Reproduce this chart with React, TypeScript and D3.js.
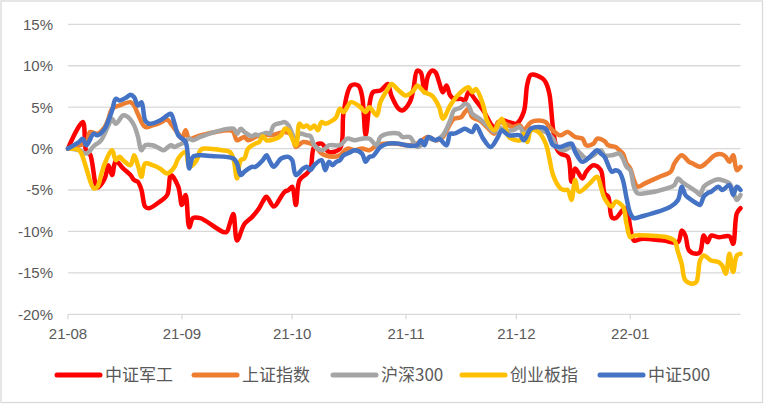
import React from "react";
import * as d3 from "d3";

type Pt = [string, number];

const seriesNames = ["中证军工", "上证指数", "沪深300", "创业板指", "中证500"];
const seriesColors = ["#FF0000", "#ED7D31", "#A5A5A5", "#FFC000", "#4472C4"];
const yTicks = [15, 10, 5, 0, -5, -10, -15, -20];
const xTickLabels = ["21-08", "21-09", "21-10", "21-11", "21-12", "22-01"];

const junGong: Pt[] = [
  ["08-01", 0], ["08-05", 3.2], ["08-06", -0.4], ["08-07", -0.7], ["08-09", -4.7], ["08-11", -3.6],
  ["08-12", -2.0], ["08-13", -3.2], ["08-14", -1.5], ["08-16", -2.4], ["08-18", -3.2], ["08-19", -3.8],
  ["08-20", -4.0], ["08-21", -5.0], ["08-22", -7.0], ["08-23", -7.2], ["08-26", -6.4], ["08-28", -5.6],
  ["08-29", -3.2], ["08-31", -4.6], ["09-01", -6.8], ["09-02", -5.6], ["09-03", -9.5], ["09-04", -8.4],
  ["09-06", -8.4], ["09-13", -10.1], ["09-14", -9.1], ["09-15", -7.9], ["09-16", -11.1], ["09-18", -9.1],
  ["09-20", -8.3], ["09-22", -7.2], ["09-23", -6.4], ["09-24", -5.8], ["09-26", -7.0], ["09-28", -5.8],
  ["09-29", -5.2], ["09-30", -5.0], ["10-01", -4.6], ["10-02", -6.8], ["10-03", -3.8], ["10-05", -3.0],
  ["10-06", -2.4], ["10-07", 0.2], ["10-09", 0.6], ["10-11", -0.4], ["10-14", 0], ["10-15", 4.4],
  ["10-17", 7.6], ["10-19", 7.6], ["10-20", 6.4], ["10-21", 1.6], ["10-22", 5.2], ["10-23", 6.8],
  ["10-25", 7.0], ["10-26", 7.4], ["10-27", 7.8], ["10-28", 6.4], ["10-30", 4.8], ["10-31", 4.6],
  ["11-02", 5.6], ["11-03", 7.2], ["11-04", 9.4], ["11-05", 9.2], ["11-06", 6.8], ["11-07", 8.8],
  ["11-08", 9.4], ["11-09", 9.2], ["11-10", 8.0], ["11-11", 6.8], ["11-12", 7.6], ["11-13", 6.4],
  ["11-14", 6.0], ["11-16", 6.0], ["11-17", 5.8], ["11-18", 6.8], ["11-20", 5.8], ["11-22", 4.6],
  ["11-25", 2.6], ["11-27", 3.4], ["11-29", 3.2], ["12-01", 3.0], ["12-03", 4.4], ["12-04", 7.8],
  ["12-05", 8.9], ["12-08", 8.5], ["12-09", 8.0], ["12-10", 6.6], ["12-11", 2.4], ["12-12", 0],
  ["12-13", -0.6], ["12-15", -1.0], ["12-16", -4.0], ["12-17", -2.4], ["12-19", -3.6], ["12-20", -2.8],
  ["12-22", -2.0], ["12-24", -2.6], ["12-25", -5.4], ["12-26", -5.8], ["12-27", -8.3], ["12-28", -8.4],
  ["12-30", -7.4], ["12-31", -7.2], ["01-01", -9.5], ["01-02", -11.1], ["01-04", -10.9], ["01-10", -11.1],
  ["01-14", -11.3], ["01-15", -9.9], ["01-16", -10.5], ["01-17", -12.3], ["01-19", -12.7], ["01-20", -12.5],
  ["01-21", -10.5], ["01-22", -11.3], ["01-23", -10.5], ["01-25", -10.7], ["01-28", -10.6], ["01-29", -11.5],
  ["01-30", -7.8], ["01-31", -7.2],
];

const shangZheng: Pt[] = [
  ["08-01", 0], ["08-06", 0.8], ["08-07", 2.0], ["08-09", 1.8], ["08-11", 2.6], ["08-12", 3.6],
  ["08-13", 4.8], ["08-15", 5.2], ["08-18", 5.6], ["08-19", 5.2], ["08-20", 4.2], ["08-22", 2.6],
  ["08-24", 2.8], ["08-26", 3.1], ["08-28", 3.5], ["08-29", 3.0], ["08-31", 1.8], ["09-01", 1.2],
  ["09-02", 2.2], ["09-03", 1.2], ["09-06", 1.6], ["09-14", 2.2], ["09-15", 2.0], ["09-16", 1.0],
  ["09-18", 1.4], ["09-19", 1.0], ["09-21", 1.4], ["09-23", 1.7], ["09-25", 1.6], ["09-27", 1.8],
  ["09-29", 2.0], ["10-01", 1.6], ["10-02", 0.2], ["10-04", 0.8], ["10-06", 0.6], ["10-07", 0.4],
  ["10-09", -0.6], ["10-10", -0.8], ["10-12", -1.0], ["10-14", -0.8], ["10-16", 0], ["10-18", -0.2],
  ["10-20", 0], ["10-22", -0.2], ["10-24", 0.4], ["10-26", 0.6], ["10-29", 0.6], ["11-02", 0.4],
  ["11-04", 0.6], ["11-07", 1.4], ["11-09", 1.0], ["11-11", 1.4], ["11-13", 3.0], ["11-14", 3.6],
  ["11-16", 3.8], ["11-17", 4.4], ["11-18", 4.8], ["11-19", 3.8], ["11-21", 3.4], ["11-23", 2.6],
  ["11-25", 1.8], ["11-26", 3.2], ["11-28", 3.0], ["11-30", 2.6], ["12-02", 2.8], ["12-03", 2.2],
  ["12-05", 3.2], ["12-07", 3.4], ["12-09", 3.2], ["12-10", 2.6], ["12-12", 1.8], ["12-13", 1.6],
  ["12-15", 2.0], ["12-17", 1.4], ["12-19", 1.2], ["12-20", 0.4], ["12-22", 0.6], ["12-23", 1.2],
  ["12-25", 0.9], ["12-26", 0.4], ["12-28", 0.2], ["12-29", -0.2], ["12-30", -0.6], ["12-31", -1.8],
  ["01-01", -2.4], ["01-02", -3.8], ["01-03", -4.6], ["01-05", -4.2], ["01-09", -3.4], ["01-12", -2.8],
  ["01-13", -1.8], ["01-15", -0.8], ["01-17", -1.6], ["01-18", -1.8], ["01-20", -2.2], ["01-22", -1.6],
  ["01-24", -0.8], ["01-26", -0.7], ["01-27", -1.0], ["01-28", -1.6], ["01-29", -0.8], ["01-30", -2.6],
  ["01-31", -2.2],
];

const huShen300: Pt[] = [
  ["08-01", 0], ["08-04", -0.2], ["08-06", -0.6], ["08-08", 0.3], ["08-10", 1.0], ["08-12", 2.8],
  ["08-13", 3.6], ["08-14", 3.0], ["08-16", 4.0], ["08-17", 3.9], ["08-18", 3.5], ["08-19", 2.8],
  ["08-20", 1.5], ["08-21", -0.2], ["08-22", 0.4], ["08-24", 0.4], ["08-26", 0], ["08-27", -0.2],
  ["08-29", 0.4], ["08-30", 0.2], ["08-31", 0.4], ["09-01", 0.6], ["09-03", 1.2], ["09-04", 1.0],
  ["09-06", 1.4], ["09-15", 2.4], ["09-16", 1.8], ["09-17", 2.4], ["09-18", 2.0], ["09-20", 1.5],
  ["09-21", 1.7], ["09-22", 1.6], ["09-24", 1.9], ["09-25", 1.8], ["09-26", 2.8], ["09-28", 3.1],
  ["09-29", 3.2], ["09-30", 2.8], ["10-02", 1.0], ["10-03", 1.8], ["10-05", 1.6], ["10-06", 1.5],
  ["10-07", 0.4], ["10-09", -0.2], ["10-10", 0], ["10-11", 0.4], ["10-14", 0.4], ["10-16", 1.2],
  ["10-18", 1.0], ["10-20", 1.2], ["10-22", 1.2], ["10-24", 0.4], ["10-25", 1.4], ["10-27", 1.8],
  ["10-30", 1.8], ["10-31", 1.4], ["11-02", 1.4], ["11-04", 0.2], ["11-05", 0.4], ["11-07", 1.2],
  ["11-09", 1.0], ["11-11", 1.6], ["11-13", 3.4], ["11-14", 4.6], ["11-15", 4.8], ["11-16", 5.0],
  ["11-17", 5.4], ["11-18", 5.2], ["11-19", 4.2], ["11-21", 3.6], ["11-23", 2.8], ["11-25", 2.0],
  ["11-26", 2.6], ["11-28", 2.2], ["11-30", 2.2], ["12-02", 2.6], ["12-03", 1.8], ["12-05", 2.4],
  ["12-07", 2.2], ["12-09", 2.0], ["12-11", 1.2], ["12-12", 0.2], ["12-14", -0.2], ["12-16", 0.2],
  ["12-18", -0.4], ["12-20", -1.2], ["12-22", -0.8], ["12-24", -0.2], ["12-25", -0.8], ["12-27", -0.8],
  ["12-29", -0.6], ["12-30", -1.2], ["12-31", -2.2], ["01-01", -2.6], ["01-02", -4.6], ["01-03", -5.4],
  ["01-05", -5.4], ["01-11", -4.8], ["01-13", -4.4], ["01-14", -3.6], ["01-15", -4.0], ["01-17", -4.6],
  ["01-19", -5.2], ["01-20", -5.6], ["01-21", -4.6], ["01-23", -4.0], ["01-25", -3.7], ["01-26", -3.8],
  ["01-28", -4.2], ["01-29", -5.2], ["01-30", -6.2], ["01-31", -5.6],
];

const chuangYe: Pt[] = [
  ["08-01", 0], ["08-04", -0.2], ["08-05", -1.0], ["08-06", -2.4], ["08-08", -4.8], ["08-09", -4.6],
  ["08-10", -3.2], ["08-11", -1.8], ["08-13", -0.2], ["08-14", -1.4], ["08-15", -1.0], ["08-16", -1.4],
  ["08-18", -2.0], ["08-19", -0.8], ["08-20", -2.0], ["08-21", -3.4], ["08-22", -1.8], ["08-24", -2.0],
  ["08-26", -2.4], ["08-28", -3.0], ["08-30", -2.2], ["08-31", -1.2], ["09-02", -0.4], ["09-03", -2.2],
  ["09-05", -1.4], ["09-06", -0.2], ["09-07", 0], ["09-12", -0.2], ["09-14", -0.4], ["09-15", -1.2],
  ["09-16", -3.6], ["09-17", -1.4], ["09-18", -1.2], ["09-19", 0], ["09-21", 0.6], ["09-22", 0.8],
  ["09-23", 1.5], ["09-24", 1.0], ["09-26", 1.1], ["09-28", 1.6], ["09-29", 2.4], ["09-30", 2.2],
  ["10-02", 0.4], ["10-03", 3.0], ["10-04", 2.6], ["10-05", 2.8], ["10-06", 2.4], ["10-07", 2.8],
  ["10-08", 2.2], ["10-09", 3.2], ["10-10", 3.0], ["10-12", 3.4], ["10-13", 3.8], ["10-14", 4.8],
  ["10-15", 4.4], ["10-17", 5.6], ["10-19", 5.2], ["10-20", 4.8], ["10-21", 4.4], ["10-22", 5.0],
  ["10-24", 4.0], ["10-25", 5.6], ["10-27", 7.2], ["10-28", 7.8], ["10-30", 7.0], ["11-01", 6.4],
  ["11-03", 7.0], ["11-04", 7.6], ["11-06", 6.8], ["11-08", 6.4], ["11-10", 5.0], ["11-11", 3.6],
  ["11-13", 5.2], ["11-15", 6.4], ["11-17", 7.2], ["11-18", 7.4], ["11-19", 6.8], ["11-20", 7.2],
  ["11-22", 5.2], ["11-23", 3.4], ["11-25", 2.2], ["11-27", 3.6], ["11-28", 2.6], ["11-29", 1.4],
  ["12-02", 1.0], ["12-03", 1.8], ["12-04", 0.8], ["12-05", 2.2], ["12-07", 2.0], ["12-09", 0.6],
  ["12-10", -1.2], ["12-11", -3.2], ["12-13", -4.8], ["12-14", -5.0], ["12-15", -5.0], ["12-16", -6.2],
  ["12-17", -3.8], ["12-18", -5.2], ["12-21", -4.2], ["12-23", -3.4], ["12-24", -4.6], ["12-25", -6.0],
  ["12-27", -7.0], ["12-28", -6.4], ["12-30", -7.0], ["12-31", -9.1], ["01-01", -10.7], ["01-02", -10.5],
  ["01-06", -10.5], ["01-11", -10.7], ["01-13", -11.1], ["01-14", -12.5], ["01-15", -13.9], ["01-16", -15.9],
  ["01-18", -16.3], ["01-19", -16.1], ["01-20", -13.5], ["01-21", -12.9], ["01-23", -13.5], ["01-25", -13.7],
  ["01-26", -14.1], ["01-27", -15.1], ["01-28", -12.7], ["01-29", -14.9], ["01-30", -12.9], ["01-31", -12.7],
];

const zhongZheng500: Pt[] = [
  ["08-01", 0], ["08-04", 0.8], ["08-05", 1.2], ["08-06", 0.4], ["08-08", 1.8], ["08-09", 1.6],
  ["08-11", 2.4], ["08-12", 3.4], ["08-13", 4.6], ["08-14", 6.0], ["08-15", 5.8], ["08-17", 6.2],
  ["08-18", 6.5], ["08-19", 6.2], ["08-20", 5.2], ["08-21", 5.6], ["08-22", 3.4], ["08-23", 3.0],
  ["08-26", 3.4], ["08-28", 4.0], ["08-29", 4.2], ["08-30", 3.0], ["08-31", 1.6], ["09-02", 0.8],
  ["09-03", -2.4], ["09-04", -1.0], ["09-06", -0.8], ["09-09", -0.9], ["09-15", -1.2], ["09-16", -1.8],
  ["09-17", -3.2], ["09-18", -2.8], ["09-20", -2.2], ["09-21", -2.2], ["09-23", -1.4], ["09-24", -0.8],
  ["09-25", -1.6], ["09-26", -2.2], ["09-28", -1.2], ["09-30", -1.0], ["10-01", -1.4], ["10-02", -3.2],
  ["10-04", -2.4], ["10-05", -2.2], ["10-06", -2.6], ["10-07", -2.0], ["10-09", -1.4], ["10-10", -2.6],
  ["10-11", -1.6], ["10-12", -2.0], ["10-13", -1.6], ["10-14", -1.4], ["10-15", -0.8], ["10-17", -0.4],
  ["10-18", -0.2], ["10-20", -0.6], ["10-21", -1.6], ["10-22", -1.0], ["10-23", -0.9], ["10-25", 0.2],
  ["10-27", 0.6], ["10-30", 0.6], ["11-01", 0.4], ["11-04", 0.4], ["11-05", 1.0], ["11-06", 0.4],
  ["11-07", 1.4], ["11-09", 1.0], ["11-10", 1.2], ["11-12", 0.4], ["11-13", 1.8], ["11-14", 1.8],
  ["11-16", 2.2], ["11-17", 2.4], ["11-19", 2.0], ["11-20", 2.8], ["11-22", 1.2], ["11-24", 0.2],
  ["11-26", 1.4], ["11-27", 2.2], ["11-29", 1.6], ["12-02", 1.6], ["12-03", 1.0], ["12-05", 2.4],
  ["12-07", 2.6], ["12-09", 2.4], ["12-10", 1.4], ["12-11", 0.4], ["12-13", 0.2], ["12-16", 0.6],
  ["12-17", -0.4], ["12-19", -1.6], ["12-21", -1.0], ["12-23", -0.2], ["12-24", -0.6], ["12-25", -1.0],
  ["12-27", -2.8], ["12-28", -2.6], ["12-29", -2.8], ["12-30", -3.8], ["12-31", -6.0], ["01-01", -7.8],
  ["01-02", -8.4], ["01-04", -8.2], ["01-12", -7.0], ["01-14", -6.2], ["01-15", -4.6], ["01-16", -5.6],
  ["01-17", -6.0], ["01-19", -6.6], ["01-20", -6.8], ["01-21", -5.8], ["01-22", -5.4], ["01-23", -5.2],
  ["01-25", -4.6], ["01-26", -5.0], ["01-28", -4.4], ["01-29", -5.6], ["01-30", -4.6], ["01-31", -5.0],
];

const allSeries = [junGong, shangZheng, huShen300, chuangYe, zhongZheng500];

function parseDay(s: string): Date {
  const [m, d] = s.split("-").map(Number);
  const year = m >= 8 ? 2021 : 2022;
  return new Date(year, m - 1, d);
}

const W = 764;
const H = 404;
const left = 68;
const right = 740.5;
const top = 24.3;
const bottom = 314.3;

export default function App() {
  const x = d3
    .scaleTime()
    .domain([new Date(2021, 7, 1), new Date(2022, 0, 31)])
    .range([left, right]);
  const y = d3.scaleLinear().domain([-20, 15]).range([bottom, top]);
  const line = d3
    .line<Pt>()
    .x((p) => x(parseDay(p[0])))
    .y((p) => y(p[1]))
    .curve(d3.curveCatmullRom.alpha(0.5));

  const monthTicks = d3.timeMonth.range(new Date(2021, 7, 1), new Date(2022, 0, 2));

  const legendX = [57, 194, 333, 462, 600];
  const legendY = 375;
  const textColor = "#595959";
  const grid = "#D9D9D9";

  return (
    <svg
      width={W}
      height={H}
      style={{ position: "absolute", left: 0, top: 0, background: "#fff" }}
      fontFamily="'Liberation Sans', Arial, sans-serif"
    >
      <rect x={1} y={1} width={W - 2.5} height={H - 2.5} fill="#fff" stroke={grid} strokeWidth={1.3} />
      {yTicks.map((t) => (
        <g key={t}>
          <line x1={left} x2={right} y1={y(t)} y2={y(t)} stroke={grid} strokeWidth={1.3} />
          <text
            x={53}
            y={y(t)}
            dy="0.36em"
            textAnchor="end"
            fontSize={15}
            fill={textColor}
          >
            {t + "%"}
          </text>
        </g>
      ))}
      {monthTicks.map((m, i) => (
        <g key={i}>
          <line x1={x(m)} x2={x(m)} y1={bottom} y2={bottom + 5} stroke={grid} strokeWidth={1.3} />
          <text x={x(m)} y={339} textAnchor="middle" fontSize={15} fill={textColor}>
            {xTickLabels[i]}
          </text>
        </g>
      ))}
      {allSeries.map((s, i) => (
        <path
          key={i}
          d={line(s) || ""}
          fill="none"
          stroke={seriesColors[i]}
          strokeWidth={4.5}
          strokeLinejoin="round"
          strokeLinecap="round"
        />
      ))}
      {seriesNames.map((n, i) => (
        <g key={n}>
          <line
            x1={legendX[i]}
            x2={legendX[i] + 43}
            y1={legendY}
            y2={legendY}
            stroke={seriesColors[i]}
            strokeWidth={5}
            strokeLinecap="round"
          />
          <text
            x={legendX[i] + 48}
            y={legendY}
            dy="0.36em"
            fontSize={17}
            fill={textColor}
            fontFamily="'Noto Sans CJK SC', sans-serif"
          >
            {n}
          </text>
        </g>
      ))}
    </svg>
  );
}
